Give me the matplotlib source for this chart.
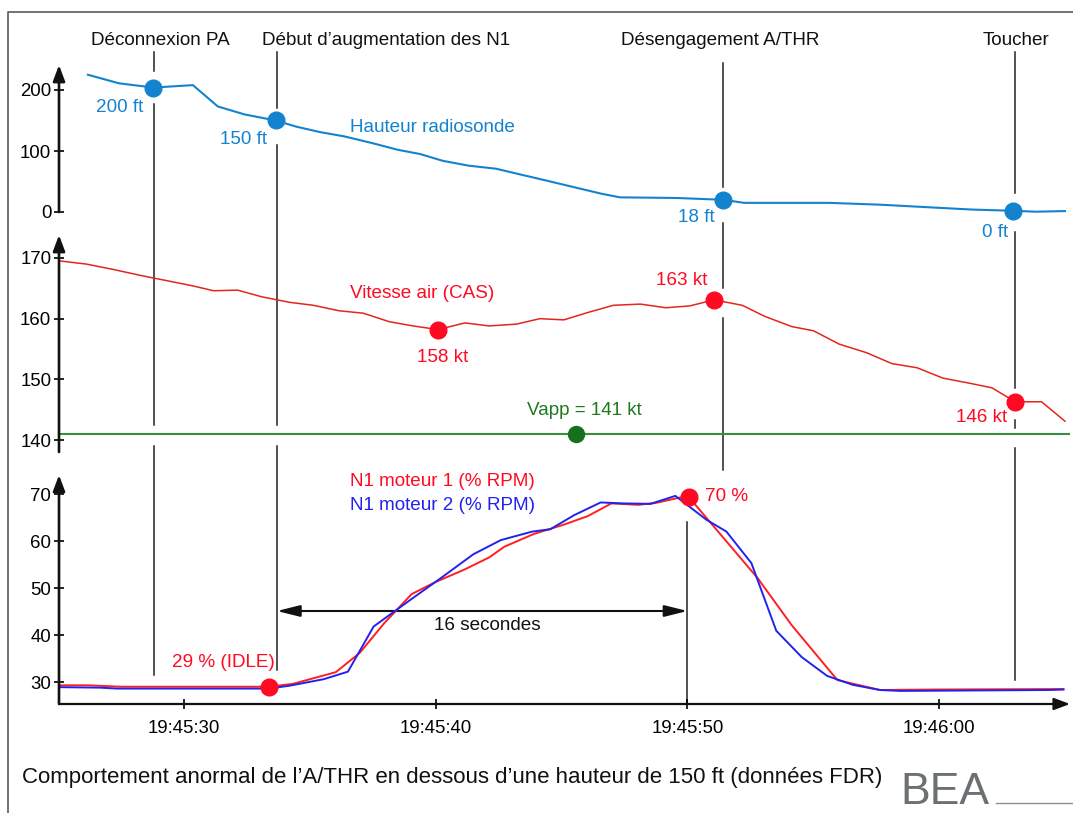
import matplotlib
matplotlib.use("Agg")
import matplotlib.pyplot as plt

plt.rcParams["font.family"] = ["Liberation Sans", "DejaVu Sans"]

# temps en secondes après 19:45:00
ra_t = [26.18, 27.41, 28.78, 30.35, 31.34, 32.40, 33.64, 34.45, 35.40, 36.36, 37.47, 38.49, 39.38,
        40.27, 41.30, 42.39, 43.21, 44.14, 45.36, 46.58, 47.32, 49.55, 51.43, 52.25, 55.63, 57.65,
        61.30, 62.94, 63.85, 65.0]
ra_ft = [225, 211, 204, 208, 173, 160, 150, 140, 131, 124, 113, 102, 95,
         84, 76, 71, 63, 54, 42, 30, 24, 23, 20, 15, 15, 12,
         4, 2, 0.5, 1.5]
ra_dot_t = [28.78, 33.64, 51.43, 62.94]
ra_dot_v = [204, 150, 20, 2]

cas_t = [25.09, 26.11, 27.20, 28.30, 29.39, 30.35, 31.17, 32.13, 33.09, 34.18, 35.14, 36.16, 37.12,
         38.15, 39.10, 40.09, 41.16, 42.12, 43.21, 44.14, 45.09, 46.03, 47.05, 48.13, 49.14, 50.09,
         51.06, 52.18, 53.06, 54.14, 55.01, 56.03, 57.11, 58.12, 59.13, 60.15, 61.16, 62.10, 63.02,
         64.07, 65.0]
cas_kt = [169.5, 169.0, 168.1, 167.1, 166.2, 165.4, 164.6, 164.7, 163.6, 162.7, 162.2, 161.3, 160.9,
          159.5, 158.8, 158.2, 159.3, 158.8, 159.1, 160.0, 159.8, 161.0, 162.2, 162.4, 161.8, 162.1,
          163.1, 162.2, 160.4, 158.7, 158.0, 155.8, 154.4, 152.6, 151.9, 150.2, 149.4, 148.6, 146.3,
          146.3, 143.1]
cas_dot_t = [40.09, 51.06, 63.02]
cas_dot_v = [158.2, 163.1, 146.3]
vapp = 141
vapp_dot_t = 45.57

n1_1_t = [25.09, 26.18, 27.48, 33.36, 34.32, 36.03, 36.98, 37.95, 39.04, 40.0, 41.09, 42.12, 42.73,
          43.9, 45.1, 46.04, 46.98, 48.06, 48.74, 49.75, 50.06, 52.79, 54.14, 55.96, 57.65, 59.81,
          64.94]
n1_1 = [29.3, 29.3, 29.0, 29.0, 29.6, 32.1, 36.2, 42.5, 48.7, 51.3, 53.8, 56.5, 58.8,
        61.5, 63.5, 65.3, 68.0, 67.7, 68.1, 69.3, 69.3, 52.1, 42.1, 30.4, 28.3, 28.4,
        28.5]
n1_2_t = [25.09, 26.66, 27.34, 33.36, 34.18, 35.55, 36.51, 37.53, 38.97, 40.20, 41.50, 42.59, 43.83,
          44.55, 45.50, 46.55, 47.45, 48.53, 49.52, 50.76, 51.55, 52.54, 53.53, 54.54, 55.55, 56.57,
          57.65, 58.46, 64.41, 64.94]
n1_2 = [28.9, 28.8, 28.6, 28.6, 29.2, 30.6, 32.2, 41.8, 47.4, 52.1, 57.2, 60.2, 62.0,
        62.5, 65.5, 68.2, 68.0, 67.9, 69.6, 64.5, 62.0, 55.3, 40.9, 35.3, 31.3, 29.4,
        28.3, 28.1, 28.3, 28.4]
n1_dot_t = [33.36, 50.06]
n1_dot_v = [29.0, 69.3]

event_t = [28.8, 33.69, 51.4, 63.02]
event_names = ["Déconnexion PA", "Début d’augmentation des N1", "Désengagement A/THR", "Toucher"]
peak_t = 50.0

tick_t = [30, 40, 50, 60]
tick_labels = ["19:45:30", "19:45:40", "19:45:50", "19:46:00"]

W, H = 1073, 813
BLUE = "#1483cf"
RED_LINE = "#e4261c"
RED = "#ff0a22"
GREEN = "#3a8f3c"
DKGREEN = "#17701d"
N1BLUE = "#2222ee"
FS = 13.6
TFS = 13.4

T0, T1 = 25.03, 65.2
X0, X1 = 59, 1070

fig = plt.figure(figsize=(W / 100, H / 100), dpi=100)


def box(y_top, y_bot, x0=X0, x1=X1):
    return [x0 / W, 1 - y_bot / H, (x1 - x0) / W, (y_bot - y_top) / H]


# fond en coordonnées pixels (cadre, légendes, logo)
bg = fig.add_axes([0, 0, 1, 1], zorder=0)
bg.set_xlim(0, W)
bg.set_ylim(H, 0)
bg.axis("off")
bg.plot([8, 8, W], [H, 12, 12], color="#5a5a5a", lw=1.2)

# lignes d'évènements
ov = fig.add_axes(box(0, H), zorder=1)
ov.set_xlim(T0, T1)
ov.set_ylim(H, 0)
ov.axis("off")
segments = [
    [(52, 71), (104, 425), (446, 675)],
    [(52, 108), (145, 425), (446, 670)],
    [(63, 187), (223, 288), (318, 470)],
    [(52, 193), (232, 388), (420, 428), (448, 680)],
]
for t, segs in zip(event_t, segments):
    for a, b in segs:
        ov.plot([t, t], [a, b], color="#222222", lw=1.1)
ov.plot([peak_t, peak_t], [522, 704], color="#222222", lw=1.1)
ov.annotate("", xy=(event_t[1], 611), xytext=(peak_t, 611),
            arrowprops=dict(arrowstyle="<|-|>,head_length=1.0,head_width=0.25", color="#111111",
                            lw=1.5, mutation_scale=14, shrinkA=0, shrinkB=0))


def panel(y_top, y_bot, vmin, vmax):
    ax = fig.add_axes(box(y_top, y_bot), zorder=2)
    ax.patch.set_alpha(0)
    ax.set_xlim(T0, T1)
    ax.set_ylim(vmin, vmax)
    for s in ax.spines.values():
        s.set_visible(False)
    ax.annotate("", xy=(0, 1), xytext=(0, 0), xycoords="axes fraction",
                arrowprops=dict(arrowstyle="-|>,head_length=0.8,head_width=0.3", color="#111111",
                                lw=1.9, mutation_scale=12, shrinkA=0, shrinkB=0))
    ax.tick_params(axis="y", direction="inout", length=7, width=1.2, labelsize=TFS, pad=2)
    ax.tick_params(axis="x", bottom=False, labelbottom=False)
    return ax


# hauteur radiosonde
ax1 = panel(65, 212, 0, (212 - 65) / 0.61)
ax1.set_yticks([0, 100, 200])
ax1.plot(ra_t, ra_ft, color=BLUE, lw=1.5, clip_on=False)
ax1.plot(ra_dot_t, ra_dot_v, "o", color=BLUE, ms=12, clip_on=False)

# vitesse air
ax2 = panel(235, 452, 140 - 12 / 6.067, 140 + 205 / 6.067)
ax2.set_yticks([140, 150, 160, 170])
ax2.axhline(vapp, color=GREEN, lw=1.5)
ax2.plot(cas_t, cas_kt, color=RED_LINE, lw=1.1, clip_on=False)
ax2.plot(cas_dot_t, cas_dot_v, "o", color=RED, ms=12, clip_on=False)
ax2.plot(vapp_dot_t, vapp, "o", color=DKGREEN, ms=11.5, clip_on=False)

# N1
ax3 = panel(475, 704, 30 - 22 / 4.7, 30 + 207 / 4.7)
ax3.set_yticks([30, 40, 50, 60, 70])
ax3.annotate("", xy=(1, 0), xytext=(0, 0), xycoords="axes fraction",
             arrowprops=dict(arrowstyle="-|>,head_length=0.8,head_width=0.3", color="#111111",
                             lw=1.6, mutation_scale=12, shrinkA=0, shrinkB=0))
ax3.tick_params(axis="x", bottom=True, labelbottom=True, direction="inout", length=7,
                width=1.2, labelsize=TFS, pad=8)
ax3.set_xticks(tick_t)
ax3.set_xticklabels(tick_labels)
ax3.plot(n1_1_t, n1_1, color="#ff1f1f", lw=1.4, clip_on=False)
ax3.plot(n1_2_t, n1_2, color=N1BLUE, lw=1.4, clip_on=False)
ax3.plot(n1_dot_t, n1_dot_v, "o", color=RED, ms=12, clip_on=False)

# textes
for name, x in zip(event_names, [160, 386, 720, 1016]):
    bg.text(x, 45, name, ha="center", va="baseline", fontsize=FS, color="#111111")

txt = [
    ("200 ft", 120, 112, "center", BLUE),
    ("150 ft", 244, 144, "center", BLUE),
    ("Hauteur radiosonde", 350, 132, "left", BLUE),
    ("18 ft", 696, 222, "center", BLUE),
    ("0 ft", 995, 237, "center", BLUE),
    ("Vitesse air (CAS)", 350, 298, "left", RED),
    ("158 kt", 443, 362, "center", RED),
    ("163 kt", 682, 285, "center", RED),
    ("146 kt", 982, 422, "center", RED),
    ("Vapp = 141 kt", 527, 415, "left", "#1f7a1f"),
    ("N1 moteur 1 (% RPM)", 350, 486, "left", RED),
    ("N1 moteur 2 (% RPM)", 350, 510, "left", N1BLUE),
    ("70 %", 705, 501, "left", RED),
    ("29 % (IDLE)", 223, 667, "center", RED),
    ("16 secondes", 487, 630, "center", "#111111"),
]
for s, x, y, ha, c in txt:
    bg.text(x, y, s, ha=ha, va="baseline", fontsize=FS, color=c)

bg.text(22, 783, "Comportement anormal de l’A/THR en dessous d’une hauteur de 150 ft (données FDR)",
        ha="left", va="baseline", fontsize=16.0, color="#111111")
bg.text(900, 812.5, "BEA", ha="left", va="bottom", fontsize=32, color="#6b7173")
bg.plot([996, W], [803, 803], color="#8a8f91", lw=1)

fig.savefig("out.png", dpi=100)
